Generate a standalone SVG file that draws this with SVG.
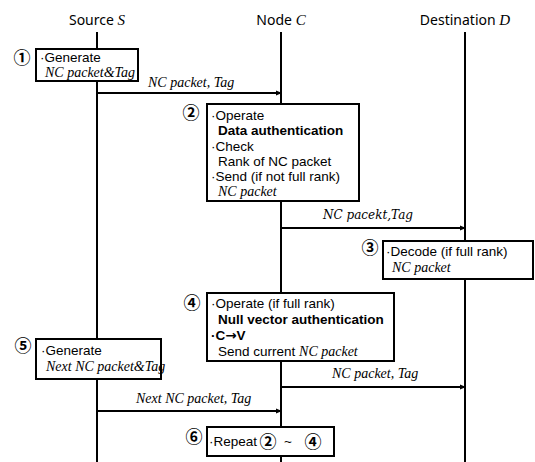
<svg xmlns="http://www.w3.org/2000/svg" width="535" height="462" viewBox="0 0 535 462">
  <defs>
    <marker id="arrow" markerWidth="6" markerHeight="6" refX="5" refY="3" orient="auto" markerUnits="userSpaceOnUse">
      <path d="M0,0.5 L6,3 L0,5.5 Z" fill="#000"/>
    </marker>
    <style>
      .title { font-family: "Noto Sans", "Open Sans", sans-serif; font-size: 14px; fill: #000; }
      .var { font-family: "Liberation Serif", serif; font-style: italic; font-size: 15px; }
      .life { stroke: #000; stroke-width: 2; fill: none; }
      .msg { stroke: #000; stroke-width: 2; fill: none; marker-end: url(#arrow); }
      .box { fill: #fff; stroke: #000; stroke-width: 2; }
      .txt { font-family: "Liberation Sans", Arial, sans-serif; font-size: 13.5px; fill: #000; }
      .b { font-weight: bold; }
      .arr { font-family: "DejaVu Sans", sans-serif; font-weight: bold; }
      .it { font-family: "Liberation Serif", serif; font-style: italic; font-size: 14px; fill: #000; }
      .math { font-family: "DejaVu Serif", serif; font-style: italic; font-size: 12px; fill: #000; }
      .num { font-family: "Noto Sans CJK KR", "DejaVu Sans", sans-serif; font-size: 17px; font-weight: bold; fill: #000; text-anchor: middle; }
    </style>
  </defs>

  <!-- lifeline headers -->
  <g id="lifelines">
    <text class="title" x="97" y="25" text-anchor="middle">Source <tspan class="var">S</tspan></text>
    <text class="title" x="281" y="25" text-anchor="middle">Node <tspan class="var">C</tspan></text>
    <text class="title" x="465" y="25" text-anchor="middle">Destination <tspan class="var">D</tspan></text>
    <line class="life" x1="97" y1="32" x2="97" y2="462"/>
    <line class="life" x1="281" y1="32" x2="281" y2="462"/>
    <line class="life" x1="465" y1="32" x2="465" y2="462"/>
  </g>

  <!-- messages -->
  <g id="connectors">
    <line class="msg" x1="97" y1="93" x2="281" y2="93"/>
    <text class="it" x="148" y="87">NC packet, Tag</text>
    <line class="msg" x1="281" y1="228" x2="465" y2="228"/>
    <text class="math" x="323" y="219">NC pacekt,Tag</text>
    <line class="msg" x1="281" y1="387" x2="465" y2="387"/>
    <text class="it" x="332" y="378">NC packet, Tag</text>
    <line class="msg" x1="97" y1="411" x2="281" y2="411"/>
    <text class="it" x="136" y="403">Next NC packet, Tag</text>
  </g>

  <!-- step 1: source generates packet -->
  <g id="step1">
    <text class="num" x="22" y="64">①</text>
    <rect class="box" x="36" y="49" width="102" height="32"/>
    <text class="txt" x="40" y="62">·Generate</text>
    <text class="it" x="45" y="77">NC packet&amp;Tag</text>
  </g>

  <!-- step 2: node C operations -->
  <g id="step2">
    <text class="num" x="191" y="119">②</text>
    <rect class="box" x="207" y="104" width="152" height="97"/>
    <text class="txt" x="211" y="120">·Operate</text>
    <text class="txt b" x="218" y="135">Data authentication</text>
    <text class="txt" x="211" y="151">·Check</text>
    <text class="txt" x="218" y="166">Rank of NC packet</text>
    <text class="txt" x="211" y="181">·Send (if not full rank)</text>
    <text class="it" x="218" y="196">NC packet</text>
  </g>

  <!-- step 3: destination decodes -->
  <g id="step3">
    <text class="num" x="370" y="254">③</text>
    <rect class="box" x="383" y="241" width="150" height="38"/>
    <text class="txt" x="386" y="256">·Decode (if full rank)</text>
    <text class="it" x="392" y="272">NC packet</text>
  </g>

  <!-- step 4: null vector check at node C -->
  <g id="step4">
    <text class="num" x="192" y="309">④</text>
    <rect class="box" x="207" y="293" width="187" height="68"/>
    <text class="txt" x="211" y="308">·Operate (if full rank)</text>
    <text class="txt b" x="218" y="324">Null vector authentication</text>
    <text class="txt b" x="211" y="340">·C<tspan class="arr">→</tspan>V</text>
    <text class="txt" x="218" y="356">Send current <tspan class="it">NC packet</tspan></text>
  </g>

  <!-- step 5: source generates next packet -->
  <g id="step5">
    <text class="num" x="23" y="352">⑤</text>
    <rect class="box" x="36" y="339" width="125" height="40"/>
    <text class="txt" x="41" y="355">·Generate</text>
    <text class="it" x="46" y="371">Next NC packet&amp;Tag</text>
  </g>

  <!-- step 6: repeat -->
  <g id="step6">
    <text class="num" x="194" y="443">⑥</text>
    <rect class="box" x="207" y="427" width="127" height="29"/>
    <text class="txt" x="209" y="446" font-size="13">·Repeat</text>
    <text class="num" x="268" y="448">②</text>
    <text class="txt" x="284" y="446">~</text>
    <text class="num" x="313" y="448">④</text>
  </g>
</svg>
